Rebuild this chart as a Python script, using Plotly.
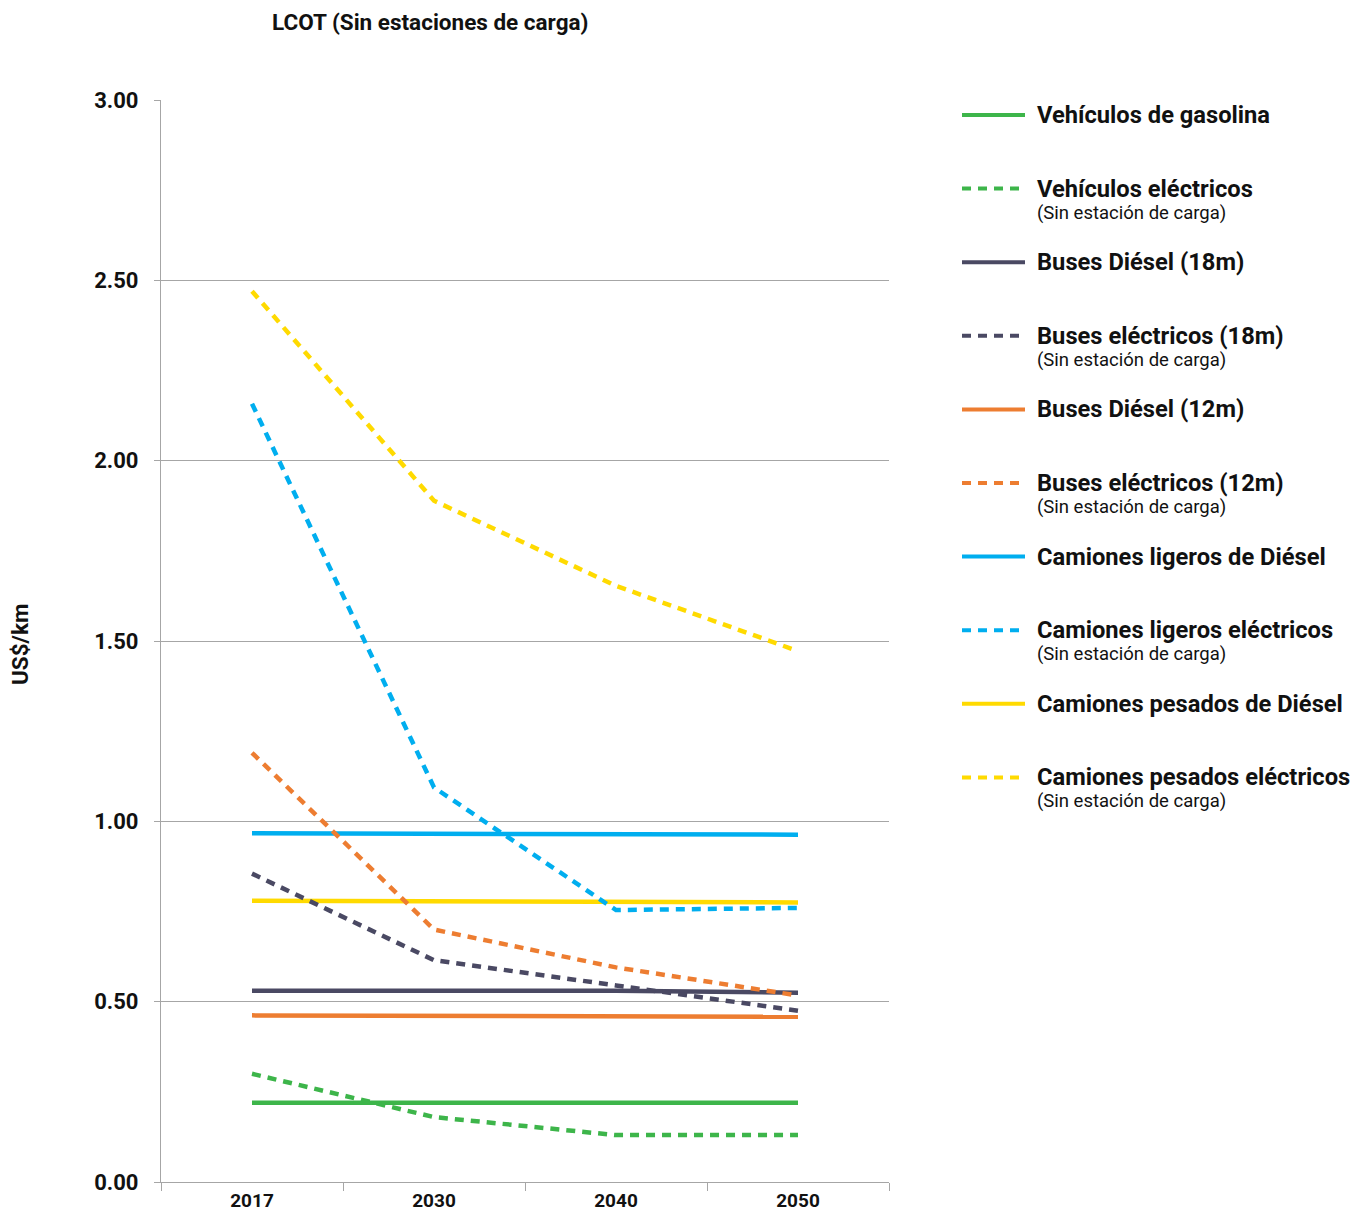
import plotly.graph_objects as go

years = ["2017", "2030", "2040", "2050"]

gasolina = [0.22, 0.22, 0.22, 0.22]
ve_electricos = [0.30, 0.18, 0.13, 0.13]
bus18_diesel = [0.53, 0.53, 0.53, 0.525]
bus18_electrico = [0.855, 0.615, 0.545, 0.475]
bus12_diesel = [0.462, 0.46, 0.46, 0.458]
bus12_electrico = [1.19, 0.70, 0.595, 0.517]
ligeros_diesel = [0.967, 0.966, 0.965, 0.963]
ligeros_electrico = [2.158, 1.094, 0.754, 0.76]
pesados_diesel = [0.78, 0.778, 0.777, 0.775]
pesados_electrico = [2.47, 1.889, 1.653, 1.472]

series_names = [
    "Vehículos de gasolina",
    "Vehículos eléctricos",
    "Buses Diésel (18m)",
    "Buses eléctricos (18m)",
    "Buses Diésel (12m)",
    "Buses eléctricos (12m)",
    "Camiones ligeros de Diésel",
    "Camiones ligeros eléctricos",
    "Camiones pesados de Diésel",
    "Camiones pesados eléctricos",
]
series_values = [
    gasolina, ve_electricos, bus18_diesel, bus18_electrico, bus12_diesel,
    bus12_electrico, ligeros_diesel, ligeros_electrico, pesados_diesel, pesados_electrico,
]
subtitle = "(Sin estación de carga)"
y_ticks = [0, 0.5, 1.0, 1.5, 2.0, 2.5, 3.0]

GREEN = "#3DB54A"
NAVY = "#4A4963"
ORANGE = "#ED7D31"
BLUE = "#00AEEF"
YELLOW = "#FFDA00"
colors = [GREEN, GREEN, NAVY, NAVY, ORANGE, ORANGE, BLUE, BLUE, YELLOW, YELLOW]
DASH = "9px,7px"
dashes = ["solid", DASH] * 5

FONT = "Roboto"
OFF = 8  # page body margin
L, R, T, B = 161 - OFF, 889 - OFF, 100 - OFF, 1182 - OFF
W, H = 1368 - OFF, 1214 - OFF


def px_x(px):
    return (px - OFF - L) / (R - L)


def px_y(py):
    return (B - (py - OFF)) / (B - T)


fig = go.Figure()
for i in [0, 2, 4, 6, 8, 1, 3, 5, 7, 9]:
    fig.add_trace(go.Scatter(
        x=years, y=series_values[i], mode="lines", name=series_names[i],
        line=dict(color=colors[i], width=4.5, dash=dashes[i]),
        showlegend=False,
    ))

shapes = []
annotations = []
for i, name in enumerate(series_names):
    yc = 115 + i * 73.6
    shapes.append(dict(
        type="line", xref="paper", yref="paper",
        x0=px_x(962), x1=px_x(1025), y0=px_y(yc), y1=px_y(yc),
        line=dict(color=colors[i], width=4, dash=dashes[i]),
    ))
    annotations.append(dict(
        xref="paper", yref="paper", x=px_x(1035), y=px_y(yc),
        xanchor="left", yanchor="middle", showarrow=False,
        text="<b>" + name + "</b>",
        font=dict(family=FONT, size=23.7, color="#111111"),
    ))
    if i % 2 == 1:
        annotations.append(dict(
            xref="paper", yref="paper", x=px_x(1035), y=px_y(yc + 24),
            xanchor="left", yanchor="middle", showarrow=False,
            text=subtitle,
            font=dict(family=FONT, size=18.5, color="#111111"),
        ))

annotations.append(dict(
    xref="paper", yref="paper", x=px_x(430), y=px_y(22),
    xanchor="center", yanchor="middle", showarrow=False,
    text="<b>LCOT (Sin estaciones de carga)</b>",
    font=dict(family=FONT, size=22.5, color="#111111"),
))
annotations.append(dict(
    xref="paper", yref="paper", x=px_x(20), y=px_y(645),
    xanchor="center", yanchor="middle", showarrow=False, textangle=-90,
    text="<b>US$/km</b>",
    font=dict(family=FONT, size=22.5, color="#111111"),
))

fig.update_layout(
    width=W, height=H,
    margin=dict(l=L, r=W - R, t=T, b=H - B, pad=0, autoexpand=False),
    plot_bgcolor="white", paper_bgcolor="white",
    showlegend=False,
    shapes=shapes, annotations=annotations,
    font=dict(family=FONT, color="#111111"),
)
fig.update_xaxes(
    type="category", range=[-0.5, 3.5], tickson="boundaries", automargin=False,
    ticks="outside", ticklen=8, tickcolor="#A6A6A6", tickwidth=1,
    showline=True, linecolor="#A6A6A6", linewidth=1.3, showgrid=False,
    tickfont=dict(family=FONT, size=19, color="#111111", weight="bold"),
    ticklabelstandoff=1,
)
fig.update_yaxes(
    range=[0, 3], tickvals=y_ticks, tickformat=".2f", automargin=False,
    ticks="outside", ticklen=6, tickcolor="#A6A6A6", tickwidth=1,
    showline=True, linecolor="#A6A6A6", linewidth=1.3,
    showgrid=True, gridcolor="#A6A6A6", gridwidth=1, zeroline=False,
    tickfont=dict(family=FONT, size=22, color="#111111", weight="bold"),
    ticklabelstandoff=11,
)

fig.write_html("out.html")
